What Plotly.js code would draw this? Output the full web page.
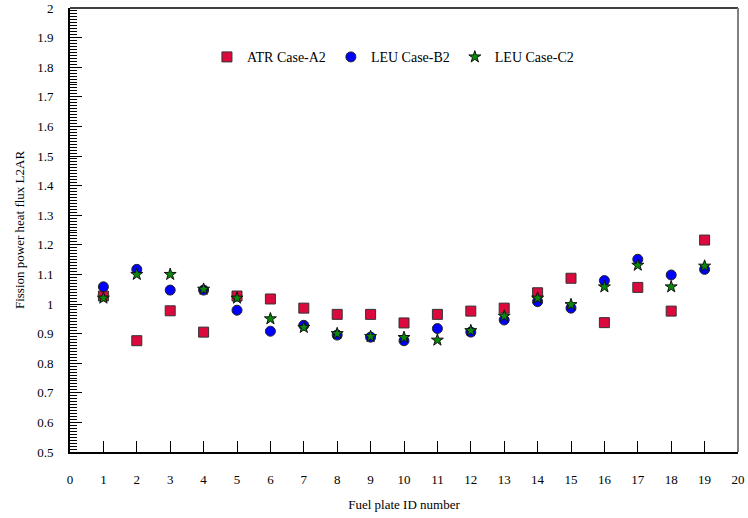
<!DOCTYPE html>
<html><head><meta charset="utf-8">
<script src="https://cdn.plot.ly/plotly-3.0.1.min.js"></script>
<style>body{margin:0;background:#fff}#c{width:748px;height:518px}</style>
</head><body><div id="c"></div>
<script>
const plates = [1,2,3,4,5,6,7,8,9,10,11,12,13,14,15,16,17,18,19];
const atrA2 = [1.027,0.876,0.977,0.905,1.027,1.017,0.986,0.965,0.965,0.936,0.965,0.976,0.986,1.038,1.087,0.937,1.056,0.976,1.216];
const leuB2 = [1.058,1.117,1.047,1.047,0.979,0.908,0.928,0.895,0.888,0.876,0.917,0.905,0.946,1.008,0.986,1.079,1.151,1.098,1.117];
const leuC2 = [1.020,1.100,1.100,1.050,1.020,0.950,0.921,0.900,0.890,0.887,0.878,0.910,0.959,1.020,0.998,1.058,1.131,1.058,1.128];
const seriesNames = ["ATR Case-A2","LEU Case-B2","LEU Case-C2"];
const xTitle = "Fuel plate ID number";
const yTitle = "Fission power heat flux L2AR";

const font = 'Liberation Serif';
const traces = [
  {x: plates, y: atrA2, name: seriesNames[0], mode: 'markers', type: 'scatter',
   marker: {symbol: 'square', size: 10, color: '#DC0A3C', line: {color: '#333', width: 1}}},
  {x: plates, y: leuB2, name: seriesNames[1], mode: 'markers', type: 'scatter',
   marker: {symbol: 'circle', size: 10, color: '#0000FF', line: {color: '#222', width: 1}}},
  {x: plates, y: leuC2, name: seriesNames[2], mode: 'markers', type: 'scatter',
   marker: {symbol: 'star', size: 9, color: '#088A08', line: {color: '#111', width: 1}}}
];
const layout = {
  width: 748, height: 518,
  margin: {l: 70, r: 10, t: 8, b: 66},
  paper_bgcolor: '#fff', plot_bgcolor: '#fff',
  font: {family: font, size: 13, color: '#000'},
  showlegend: true,
  legend: {orientation: 'h', x: 0.205, y: 0.925, xanchor: 'left', yanchor: 'top',
    font: {family: font, size: 14, color: '#000'}, bgcolor: 'rgba(0,0,0,0)', itemwidth: 30},
  xaxis: {range: [0, 20], dtick: 1, tick0: 0, ticks: 'inside', ticklen: 11, tickcolor: '#000',
    showgrid: false, zeroline: false, showline: true, linecolor: '#000', linewidth: 2, mirror: false,
    ticklabelstandoff: 14, tickfont: {family: font, size: 13},
    title: {text: xTitle, font: {family: font, size: 13}, standoff: 14}},
  yaxis: {range: [0.5, 2], dtick: 0.1, tick0: 0.5, ticks: 'inside', ticklen: 12, tickcolor: '#000',
    minor: {dtick: 0.01, ticks: 'inside', ticklen: 7, tickcolor: '#000', showgrid: false},
    showgrid: false, zeroline: false, showline: true, linecolor: '#000', linewidth: 2,
    ticklabelstandoff: 12, tickfont: {family: font, size: 13},
    title: {text: yTitle, font: {family: font, size: 13}, standoff: 10}},
  shapes: [
    {type: 'line', xref: 'paper', yref: 'paper', x0: 0, x1: 1, y0: 1, y1: 1, line: {color: '#000', width: 1.5}},
    {type: 'line', xref: 'paper', yref: 'paper', x0: 1, x1: 1, y0: 0, y1: 1, line: {color: '#808080', width: 2}}
  ]
};
Plotly.newPlot('c', traces, layout, {displayModeBar: false, staticPlot: true});
</script></body></html>
